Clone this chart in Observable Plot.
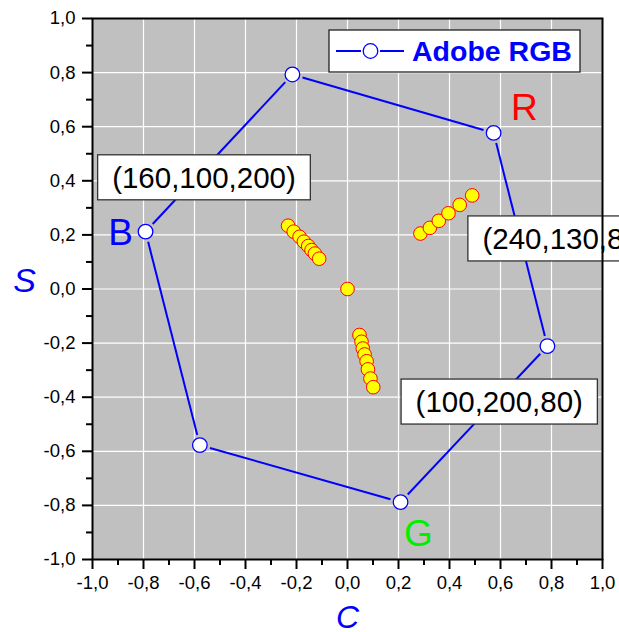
<!DOCTYPE html>
<html>
<head>
<meta charset="utf-8">
<script src="https://cdn.jsdelivr.net/npm/d3@7"></script>
<script src="https://cdn.jsdelivr.net/npm/@observablehq/plot@0.6"></script>
<style>
  html, body { margin: 0; padding: 0; background: #fff; overflow: hidden; }
  #chart svg { display: block; overflow: hidden; }
</style>
</head>
<body>
<div id="chart"></div>
<script>
const FONT = '"Liberation Sans", Arial, Helvetica, sans-serif';

// Adobe RGB gamut outline in the C–S plane (vertices in drawing order)
const gamutC = [-0.216, 0.573, 0.784, 0.208, -0.579, -0.792];
const gamutS = [0.793, 0.577, -0.211, -0.788, -0.577, 0.212];

// Measured samples
const sampleC = [
  -0.233, -0.211, -0.188, -0.171, -0.154, -0.141, -0.128, -0.111,
  0.000,
  0.286, 0.323, 0.358, 0.396, 0.440, 0.489,
  0.047, 0.055, 0.060, 0.067, 0.075, 0.080, 0.090, 0.101
];
const sampleS = [
  0.234, 0.212, 0.193, 0.175, 0.159, 0.144, 0.131, 0.112,
  0.000,
  0.205, 0.226, 0.252, 0.280, 0.311, 0.346,
  -0.170, -0.195, -0.220, -0.242, -0.267, -0.297, -0.331, -0.363
];

// Primary letters
const primaryNames = ["R", "G", "B"];
const primaryC = [0.694, 0.278, -0.890];
const primaryS = [0.670, -0.905, 0.206];
const primaryColors = ["#ff0000", "#00ee00", "#0000ff"];

// RGB triplet annotations (left edge of text, vertical centre)
const rgbLabels = ["(160,100,200)", "(240,130,80)", "(100,200,80)"];
const rgbLabelC = [-0.923, 0.529, 0.267];
const rgbLabelS = [0.409, 0.183, -0.420];

// Axis ticks
const tickValues = [-1, -0.8, -0.6, -0.4, -0.2, 0, 0.2, 0.4, 0.6, 0.8, 1];
const tickLabels = ["-1,0", "-0,8", "-0,6", "-0,4", "-0,2", "0,0", "0,2", "0,4", "0,6", "0,8", "1,0"];
const minorTicks = [-0.9, -0.7, -0.5, -0.3, -0.1, 0.1, 0.3, 0.5, 0.7, 0.9];
const gridValues = [-0.8, -0.6, -0.4, -0.2, 0, 0.2, 0.4, 0.6, 0.8];

const legendLabel = "Adobe RGB";

const vertices = gamutC.map((c, i) => ({c, s: gamutS[i]}));
const edges = vertices.map((v, i) => ({a: v, b: vertices[(i + 1) % vertices.length]}));
const samples = sampleC.map((c, i) => ({c, s: sampleS[i]}));
const fmt = d => {
  const i = tickValues.findIndex(v => Math.abs(v - d) < 1e-9);
  return i < 0 ? "" : tickLabels[i];
};

// Stop each outline segment short of the vertex circles
const GAP = 10.5;
function shortenLinks(index, scales, values, dimensions, context, next) {
  const {x1, y1, x2, y2} = values;
  const X1 = Float64Array.from(x1), Y1 = Float64Array.from(y1);
  const X2 = Float64Array.from(x2), Y2 = Float64Array.from(y2);
  for (const i of index) {
    const dx = x2[i] - x1[i], dy = y2[i] - y1[i];
    const len = Math.hypot(dx, dy) || 1;
    X1[i] = x1[i] + dx / len * GAP; Y1[i] = y1[i] + dy / len * GAP;
    X2[i] = x2[i] - dx / len * GAP; Y2[i] = y2[i] - dy / len * GAP;
  }
  return next(index, scales, {...values, x1: X1, y1: Y1, x2: X2, y2: Y2}, dimensions, context);
}

const plot = Plot.plot({
  width: 619,
  height: 632,
  marginLeft: 92,
  marginRight: 17,
  marginTop: 18,
  marginBottom: 73,
  style: {fontFamily: FONT, background: "white"},
  x: {domain: [-1, 1]},
  y: {domain: [-1, 1]},
  color: {type: "identity"},
  marks: [
    Plot.frame({fill: "#c0c0c0", stroke: null}),
    Plot.gridX(gridValues, {stroke: "white", strokeOpacity: 1, strokeWidth: 1.2}),
    Plot.gridY(gridValues, {stroke: "white", strokeOpacity: 1, strokeWidth: 1.2}),
    Plot.link(edges, {
      x1: d => d.a.c, y1: d => d.a.s, x2: d => d.b.c, y2: d => d.b.s,
      stroke: "#0000ff", strokeWidth: 2, render: shortenLinks
    }),
    Plot.dot(vertices, {x: "c", y: "s", r: 7.3, fill: "white", stroke: "#0000ff", strokeWidth: 1.3}),
    Plot.dot(samples, {x: "c", y: "s", r: 6.8, fill: "#ffff00", stroke: "#ff0000", strokeWidth: 1}),
    Plot.text(primaryNames, {
      x: (d, i) => primaryC[i], y: (d, i) => primaryS[i], text: d => d,
      fill: (d, i) => primaryColors[i], fontSize: 37
    }),
    Plot.text(rgbLabels, {
      x: (d, i) => rgbLabelC[i], y: (d, i) => rgbLabelS[i], text: d => d,
      textAnchor: "start", fontSize: 29.5, fill: "black"
    }),
    Plot.axisX(tickValues, {tickSize: 10, tickPadding: 6, tickFormat: fmt, fontSize: 18.5, strokeWidth: 2, label: null}),
    Plot.axisX(minorTicks, {tickSize: 6, fill: "none", strokeWidth: 2, label: null}),
    Plot.axisY(tickValues, {tickSize: 10, tickPadding: 7, tickFormat: fmt, fontSize: 18.5, strokeWidth: 2, label: null}),
    Plot.axisY(minorTicks, {tickSize: 6, fill: "none", strokeWidth: 2, label: null}),
    Plot.text(["S"], {
      frameAnchor: "left", text: d => d, textAnchor: "middle", lineAnchor: "middle",
      dx: -68, dy: -8, fontSize: 34, fontStyle: "italic", fill: "#0000ff"
    }),
    Plot.text(["C"], {
      frameAnchor: "bottom", text: d => d, textAnchor: "middle", lineAnchor: "middle",
      dy: 58, fontSize: 32, fontStyle: "italic", fill: "#0000ff"
    }),
    Plot.frame({stroke: "black", strokeWidth: 2})
  ]
});

document.getElementById("chart").append(plot);

// White boxes behind the RGB triplet annotations
const svgNS = "http://www.w3.org/2000/svg";
d3.select(plot).selectAll("text")
  .filter(function () { return this.textContent.startsWith("("); })
  .each(function () {
    const bb = this.getBBox();
    const rect = document.createElementNS(svgNS, "rect");
    rect.setAttribute("x", bb.x - 14.5);
    rect.setAttribute("y", bb.y - 6);
    rect.setAttribute("width", bb.width + 29);
    rect.setAttribute("height", bb.height + 12);
    rect.setAttribute("fill", "white");
    rect.setAttribute("stroke", "#333");
    rect.setAttribute("stroke-width", 1.3);
    const tr = this.getAttribute("transform");
    if (tr) rect.setAttribute("transform", tr);
    this.parentNode.insertBefore(rect, this);
  });

// Legend
const lg = d3.select(plot).append("g")
  .attr("font-family", FONT)
  .attr("text-anchor", "start");
lg.append("rect").attr("x", 329).attr("y", 30).attr("width", 251).attr("height", 42)
  .attr("fill", "white").attr("stroke", "#222").attr("stroke-width", 1.3);
lg.append("line").attr("x1", 336).attr("x2", 361).attr("y1", 51).attr("y2", 51)
  .attr("stroke", "#0000ff").attr("stroke-width", 2);
lg.append("line").attr("x1", 380).attr("x2", 404).attr("y1", 51).attr("y2", 51)
  .attr("stroke", "#0000ff").attr("stroke-width", 2);
lg.append("circle").attr("cx", 370.5).attr("cy", 51).attr("r", 7.3)
  .attr("fill", "white").attr("stroke", "#0000ff").attr("stroke-width", 1.3);
lg.append("text").attr("x", 412).attr("y", 61).attr("fill", "#0000ff")
  .attr("text-anchor", "start")
  .attr("font-weight", "bold").attr("font-size", 28.5).text(legendLabel);
</script>
</body>
</html>
